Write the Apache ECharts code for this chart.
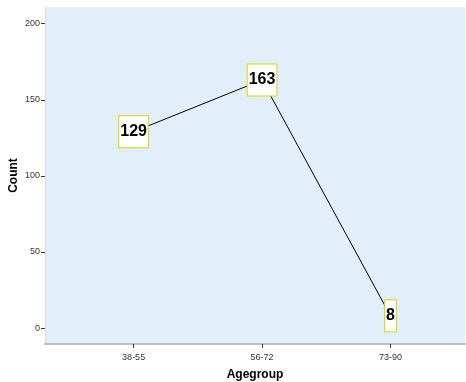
<!DOCTYPE html>
<html><head><meta charset="utf-8">
<script src="https://cdn.jsdelivr.net/npm/echarts@6/dist/echarts.min.js"></script>
<style>html,body{margin:0;padding:0;background:#fff}#c{width:466px;height:382px}</style>
</head><body><div id="c"></div>
<script>
var categories = ['38-55', '56-72', '73-90'];
var counts = [129, 163, 8];
var yTicks = [0, 50, 100, 150, 200];

var chart = echarts.init(document.getElementById('c'), null, {renderer: 'canvas'});
var positions = categories.map(function (c, i) { return i + 1; });
var data = counts.map(function (v, i) { return [positions[i], v]; });
var font = 'Liberation Sans, Arial, sans-serif';
chart.setOption({
  animation: false,
  grid: {left: 45, top: 7, right: 1, bottom: 38, show: true, backgroundColor: '#e2eefa', borderWidth: 0,
    containLabel: false, outerBoundsMode: 'none'},
  xAxis: {
    type: 'value', min: 0.31, max: 3.58,
    name: 'Agegroup', nameLocation: 'middle', nameGap: 25, nameMoveOverlap: false,
    nameTextStyle: {fontFamily: font, fontSize: 12, fontWeight: 'bold', color: '#000'},
    axisLine: {show: true, onZero: false, lineStyle: {color: '#bdbdbd', width: 2}},
    axisTick: {show: true, customValues: positions, length: 4, lineStyle: {color: '#333'}},
    axisLabel: {customValues: positions, margin: 9, fontFamily: font, fontSize: 9, color: '#333',
      formatter: function (v) { return categories[Math.round(v) - 1] || ''; }},
    splitLine: {show: false}
  },
  yAxis: {
    type: 'value', min: -10.5, max: 211,
    name: 'Count', nameLocation: 'middle', nameGap: 25, nameRotate: 90, nameMoveOverlap: false,
    nameTextStyle: {fontFamily: font, fontSize: 12, fontWeight: 'bold', color: '#000'},
    axisLine: {show: true, onZero: false, lineStyle: {color: '#dcdcdc', width: 1}},
    axisTick: {show: true, customValues: yTicks, length: 4, lineStyle: {color: '#333'}},
    axisLabel: {customValues: yTicks, margin: 5, fontFamily: font, fontSize: 9, color: '#333'},
    splitLine: {show: false}
  },
  series: [{
    type: 'line',
    data: data,
    symbol: 'circle', symbolSize: 1,
    itemStyle: {color: 'rgba(0,0,0,0)'},
    lineStyle: {color: '#000', width: 1},
    label: {
      show: true, position: 'inside',
      formatter: function (p) { return p.value[1]; },
      fontFamily: font, fontSize: 16, fontWeight: 'bold', color: '#000',
      backgroundColor: '#fff', borderColor: '#d6d318', borderWidth: 1,
      padding: [7, 1, 7, 1], lineHeight: 17
    },
    z: 3
  }]
});
</script></body></html>
